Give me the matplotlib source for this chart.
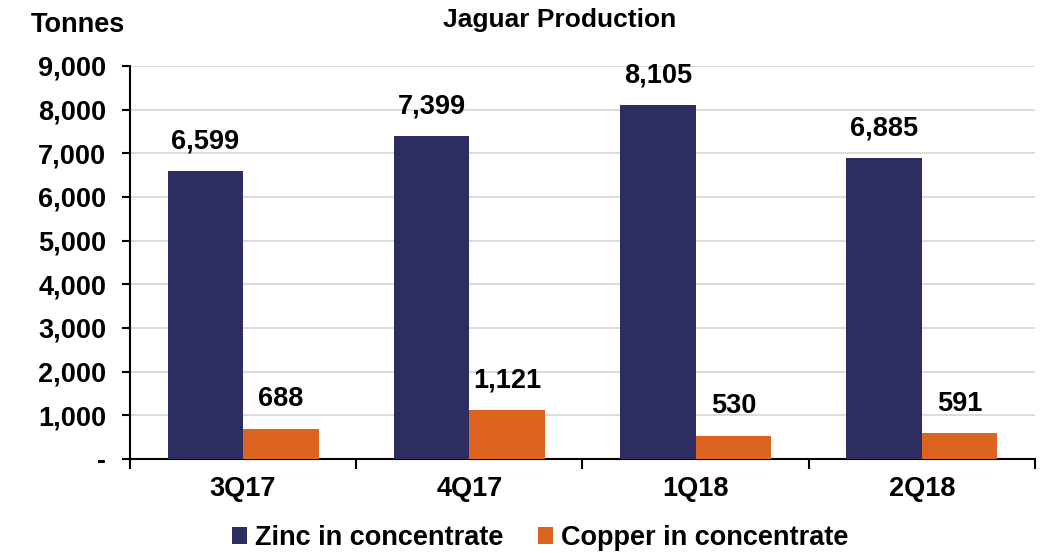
import matplotlib
matplotlib.use("Agg")
import matplotlib.pyplot as plt
import numpy as np

plt.rcParams['font.family'] = ['Liberation Sans', 'DejaVu Sans']
plt.rcParams['font.weight'] = 'bold'

quarters = ['3Q17', '4Q17', '1Q18', '2Q18']
zinc = [6599, 7399, 8105, 6885]
copper = [688, 1121, 530, 591]

navy = '#2E2D62'
orange = '#DD6420'

fig = plt.figure(figsize=(10.43, 5.53), dpi=100)
ax = fig.add_axes([0.1246, 0.170, 0.8677, 0.7107])

x = np.arange(len(quarters))
width = 1 / 3
b1 = ax.bar(x - width / 2, zinc, width, color=navy, label='Zinc in concentrate', zorder=3)
b2 = ax.bar(x + width / 2, copper, width, color=orange, label='Copper in concentrate', zorder=3)

for rects in (b1, b2):
    for r in rects:
        h = r.get_height()
        ax.annotate('{:,}'.format(int(h)), xy=(r.get_x() + r.get_width() / 2, h),
                    xytext=(0, 12), textcoords='offset points',
                    ha='center', va='bottom', fontsize=19.5, fontweight='bold')

ax.set_xlim(-0.5, len(quarters) - 0.5)
ax.set_ylim(0, 9000)
yt = np.arange(0, 9001, 1000)
ax.set_yticks(yt)
ax.set_yticklabels(['-'] + ['{:,}'.format(v) for v in yt[1:]])
ax.set_xticks(x)
ax.set_xticklabels(quarters)
ax.set_xticks(np.arange(-0.5, len(quarters)), minor=True)
ax.tick_params(axis='x', which='major', length=0, pad=12, labelsize=19.5)
ax.tick_params(axis='x', which='minor', length=7, width=1.5, direction='out')
ax.tick_params(axis='y', length=6, width=1.5, direction='out', pad=11, labelsize=19.5)

ax.yaxis.grid(True, color='#D9D9D9', linewidth=1.3, zorder=0)
ax.spines['top'].set_visible(False)
ax.spines['right'].set_visible(False)
ax.spines['left'].set_linewidth(1.5)
ax.spines['bottom'].set_linewidth(1.5)

fig.text(0.537, 0.963, 'Jaguar Production', ha='center', va='center', fontsize=19, fontweight='bold')
fig.text(0.075, 0.955, 'Tonnes', ha='center', va='center', fontsize=19.5, fontweight='bold')

fig.legend(handles=[b1, b2], loc='center', bbox_to_anchor=(0.518, 0.027), ncol=2, frameon=False,
           fontsize=19.5, handlelength=0.55, handleheight=0.55, handletextpad=0.3, columnspacing=1.3)

fig.savefig('out.png', dpi=100)
